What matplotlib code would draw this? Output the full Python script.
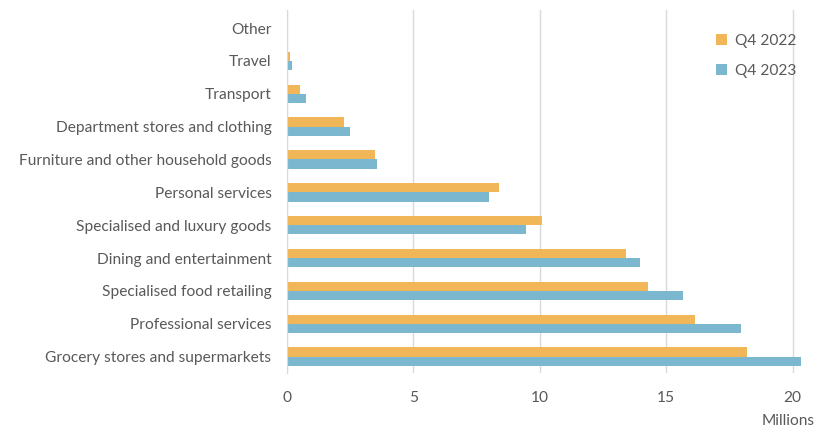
import numpy as np
import matplotlib.pyplot as plt

plt.rcParams['font.family'] = ['Lato', 'DejaVu Sans']

# categories from bottom to top
categorias = ['Grocery stores and supermarkets', 'Professional services',
              'Specialised food retailing', 'Dining and entertainment',
              'Specialised and luxury goods', 'Personal services',
              'Furniture and other household goods',
              'Department stores and clothing', 'Transport', 'Travel', 'Other']
q4_2022 = [18.19, 16.14, 14.27, 13.4, 10.1, 8.38, 3.48, 2.27, 0.51, 0.13, 0.07]
q4_2023 = [20.34, 17.97, 15.65, 13.96, 9.45, 8.0, 3.56, 2.5, 0.75, 0.22, 0.02]

cor_laranja = '#F0B657'
cor_azul = '#7BB8D0'
cor_texto = '#595959'
tam = 11.2

fig = plt.figure(figsize=(8.3, 4.3), dpi=100)
ax = fig.add_axes([286.7/830, 1 - 373/430, (818 - 286.7)/830, (373 - 10)/430])

y = np.arange(len(categorias))
h = 0.28
ax.barh(y + h/2, q4_2022, height=h, color=cor_laranja, label='Q4 2022', zorder=3)
ax.barh(y - h/2, q4_2023, height=h, color=cor_azul, label='Q4 2023', zorder=3)

ax.set_xlim(0, 21)
ax.set_ylim(-0.5, 10.55)
ax.set_xticks([0, 5, 10, 15, 20])
ax.set_yticks(y)
ax.set_yticklabels(categorias)
ax.tick_params(axis='both', length=0, labelsize=tam, colors=cor_texto)
ax.tick_params(axis='x', pad=13)
ax.tick_params(axis='y', pad=11)

ax.grid(axis='x', color='#d9d9d9', linewidth=1, zorder=0)
for s in ['top', 'right', 'bottom']:
    ax.spines[s].set_visible(False)
ax.spines['left'].set_color('#d9d9d9')
ax.spines['left'].set_zorder(4)

ax.legend(loc='upper right', bbox_to_anchor=(0.985, 0.972), frameon=False,
          fontsize=tam, labelcolor=cor_texto, handlelength=0.7, handleheight=0.7,
          handletextpad=0.5, labelspacing=1.0)

fig.text(815/830, 1 - 421/430, 'Millions', ha='right', va='center',
         fontsize=tam, color=cor_texto)

fig.savefig('out.png', dpi=100)
